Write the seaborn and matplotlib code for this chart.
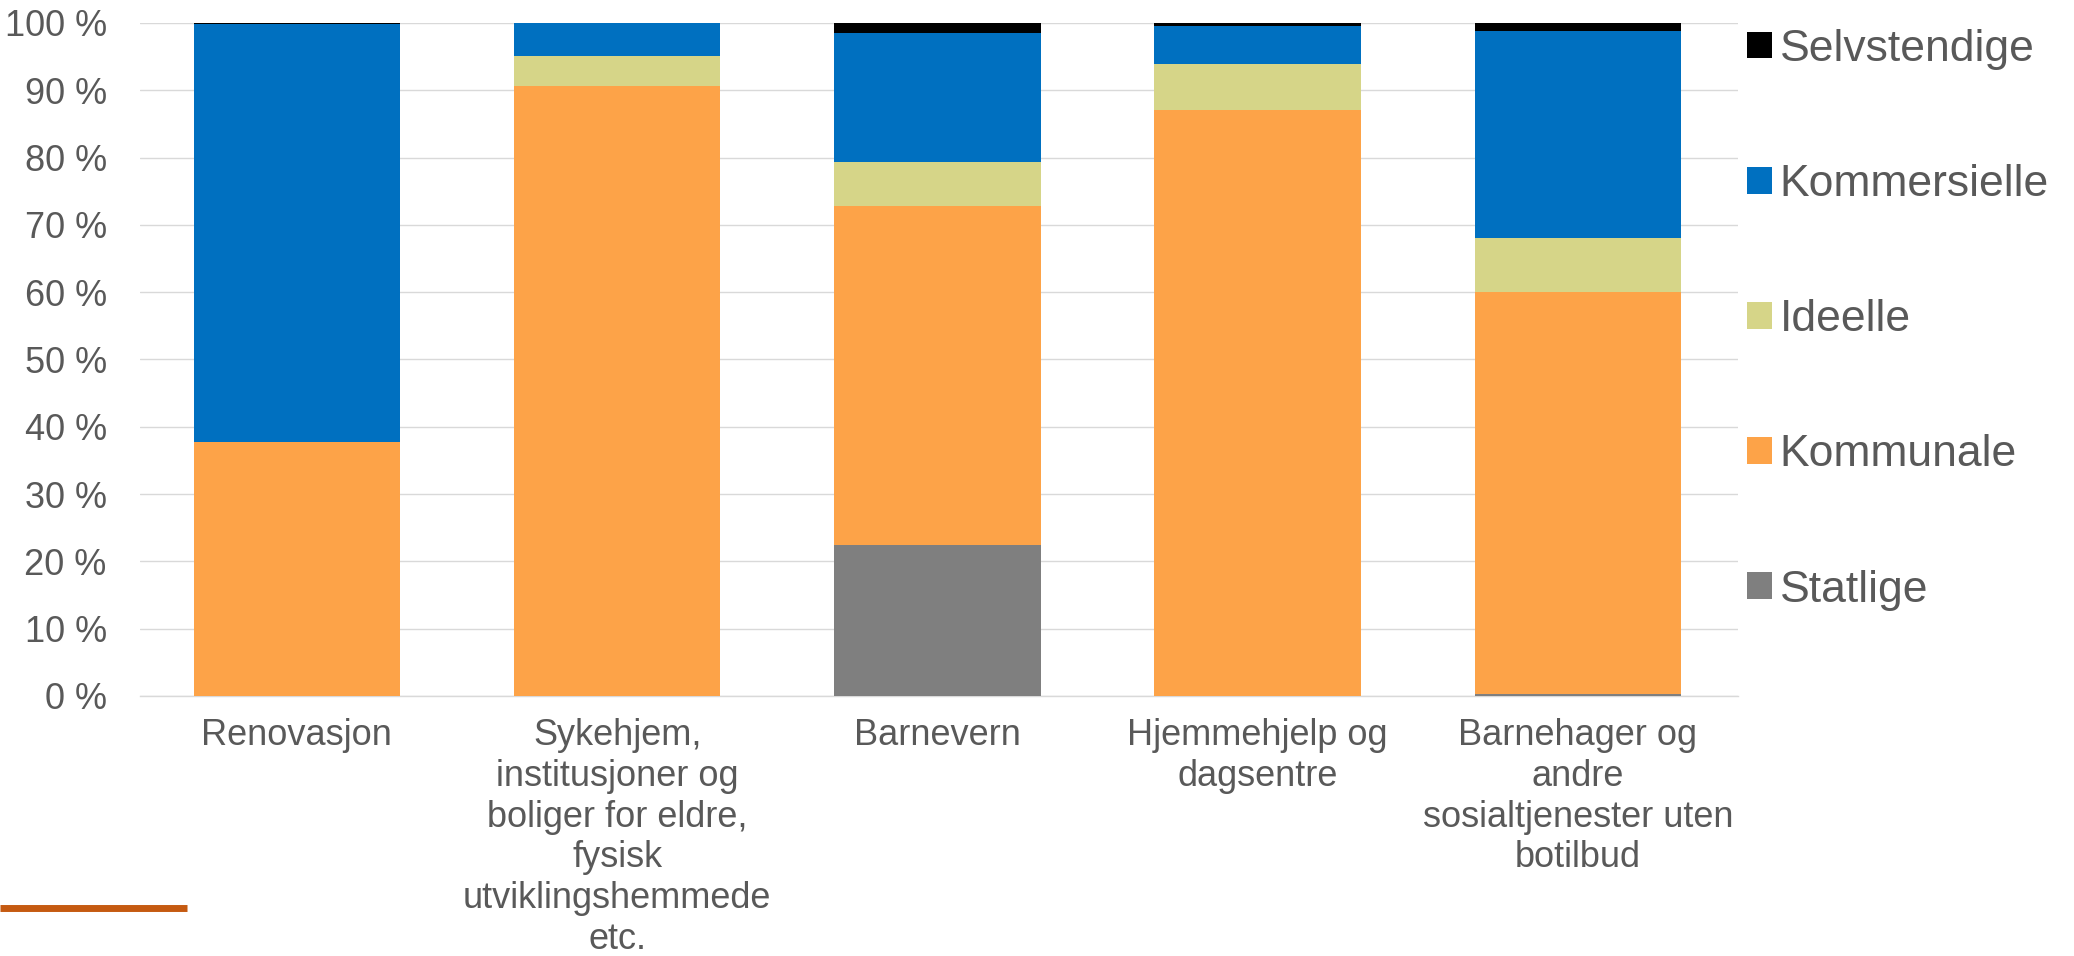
import numpy as np
import pandas as pd
import matplotlib
matplotlib.use("Agg")
import matplotlib.pyplot as plt
from matplotlib.patches import Patch
from matplotlib.lines import Line2D
import seaborn as sns

# ============= DATA =============
categories = [
    "Renovasjon",
    "Sykehjem,\ninstitusjoner og\nboliger for eldre,\nfysisk\nutviklingshemmede\netc.",
    "Barnevern",
    "Hjemmehjelp og\ndagsentre",
    "Barnehager og\nandre\nsosialtjenester uten\nbotilbud",
]
statlige = [0.0, 0.0, 22.4, 0.0, 0.3]
kommunale = [37.8, 90.7, 50.4, 87.1, 59.7]
ideelle = [0.0, 4.35, 6.6, 6.8, 8.1]
kommersielle = [62.0, 4.95, 19.1, 5.7, 30.7]
selvstendige = [0.2, 0.0, 1.5, 0.4, 1.2]

series_names = ["Statlige", "Kommunale", "Ideelle", "Kommersielle", "Selvstendige"]
series_values = [statlige, kommunale, ideelle, kommersielle, selvstendige]
colors = ["#7F7F7F", "#FDA348", "#D6D588", "#0070C0", "#000000"]

# ============= PLOT =============
sns.set_style("white")
plt.rcParams['font.family'] = ['Liberation Sans', 'DejaVu Sans']
text_col = "#595959"

fig = plt.figure(figsize=(20.74, 9.56), dpi=100)
ax = fig.add_axes([0.0675, 0.272, 0.7705, 0.704])

# stacked bars: draw cumulative totals, tallest first
df = pd.DataFrame(dict(zip(series_names, series_values)), index=categories)
cum = df.cumsum(axis=1)
for name, col in reversed(list(zip(series_names, colors))):
    sns.barplot(x=cum.index, y=cum[name].values, color=col, width=0.645,
                saturation=1, linewidth=0, edgecolor="none", ax=ax, zorder=3)

ax.set_ylim(0, 100)
ax.set_xlim(-0.49, 4.5)
ax.set_yticks(np.arange(0, 101, 10))
ax.set_yticklabels([f"{v} %" for v in range(0, 101, 10)])
ax.yaxis.grid(True, color="#D9D9D9", linewidth=1.0, zorder=0)
ax.set_axisbelow(True)
for s in ["top", "right", "left"]:
    ax.spines[s].set_visible(False)
ax.spines["bottom"].set_color("#D9D9D9")
ax.spines["bottom"].set_linewidth(1.0)
ax.tick_params(axis="y", length=0, pad=24, labelsize=26, labelcolor=text_col)
ax.tick_params(axis="x", length=0, pad=16, labelsize=26, labelcolor=text_col)
for lab in ax.get_xticklabels():
    lab.set_linespacing(1.21)
    lab.set_horizontalalignment("center")
ax.set_xlabel("")
ax.set_ylabel("")

handles = [Patch(facecolor=c, edgecolor="none", label=n)
           for n, c in zip(series_names, colors)][::-1]
fig.legend(handles=handles, loc="upper left", bbox_to_anchor=(0.836, 0.984),
           frameon=False, fontsize=32, labelcolor=text_col,
           handlelength=0.55, handleheight=0.55, handletextpad=0.18,
           labelspacing=2.12, borderaxespad=0.0, borderpad=0.3)

# orange accent line bottom left
fig.add_artist(Line2D([0, 0.09], [0.05, 0.05], color="#C55A11",
                      linewidth=5, solid_capstyle="butt",
                      transform=fig.transFigure))

fig.savefig("out.png", dpi=100)
